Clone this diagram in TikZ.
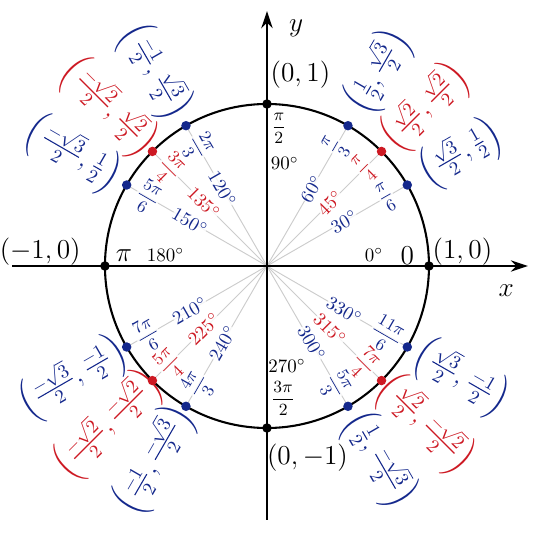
\documentclass[tikz,border=0pt]{standalone}
\usetikzlibrary{arrows.meta}
\usepackage{amsmath}
\begin{document}
\definecolor{cb}{RGB}{20,40,140}
\definecolor{cr}{RGB}{205,25,35}
\begin{tikzpicture}[
  ray/.style={gray!40,line width=0.5pt},
  dot/.style={circle,fill,inner sep=0pt,minimum size=5pt},
  coord/.style={font=\Large,inner sep=0pt},
  rad/.style={font=\small,inner sep=0pt},
  deg/.style={font=\normalsize,inner sep=0pt}]
\useasboundingbox (-4.944,-5.074) rectangle (5.056,4.926);
\coordinate (O) at (0,0);
\foreach \a/\c/\co/\r/\d in {
 30/cb/{\frac{\sqrt3}{2},\frac12}/{\dfrac{\pi}{6}}/30,
 45/cr/{\frac{\sqrt2}{2},\frac{\sqrt2}{2}}/{\dfrac{\pi}{4}}/45,
 60/cb/{\frac12,\frac{\sqrt3}{2}}/{\dfrac{\pi}{3}}/60,
 300/cb/{\frac12,\frac{-\sqrt3}{2}}/{\dfrac{5\pi}{3}}/300,
 315/cr/{\frac{\sqrt2}{2},\frac{-\sqrt2}{2}}/{\dfrac{7\pi}{4}}/315,
 330/cb/{\frac{\sqrt3}{2},\frac{-1}{2}}/{\dfrac{11\pi}{6}}/330}{
  \coordinate (p\a) at (\a:3);
  \draw[ray] (O) -- (p\a);
  \node[deg,text=\c,rotate=\a,fill=white,fill opacity=0.8,text opacity=1] (d\a) at (\a:1.65) {$\d^\circ$};
  \node[rad,text=\c,rotate=\a,fill=white,fill opacity=0.8,text opacity=1] (r\a) at (\a:2.55) {$\r$};
  \node[coord,text=\c,rotate=\a] (c\a) at (\a:4.15) {$\left(\co\right)$};
}
\foreach \a/\c/\co/\r/\d in {
 120/cb/{\frac{-1}{2},\frac{\sqrt3}{2}}/{\dfrac{2\pi}{3}}/120,
 135/cr/{\frac{-\sqrt2}{2},\frac{\sqrt2}{2}}/{\dfrac{3\pi}{4}}/135,
 150/cb/{\frac{-\sqrt3}{2},\frac12}/{\dfrac{5\pi}{6}}/150,
 210/cb/{\frac{-\sqrt3}{2},\frac{-1}{2}}/{\dfrac{7\pi}{6}}/210,
 225/cr/{\frac{-\sqrt2}{2},\frac{-\sqrt2}{2}}/{\dfrac{5\pi}{4}}/225,
 240/cb/{\frac{-1}{2},\frac{-\sqrt3}{2}}/{\dfrac{4\pi}{3}}/240}{
  \coordinate (p\a) at (\a:3);
  \draw[ray] (O) -- (p\a);
  \node[deg,text=\c,rotate=\a-180,fill=white,fill opacity=0.8,text opacity=1] (d\a) at (\a:1.65) {$\d^\circ$};
  \node[rad,text=\c,rotate=\a-180,fill=white,fill opacity=0.8,text opacity=1] (r\a) at (\a:2.55) {$\r$};
  \node[coord,text=\c,rotate=\a-180] (c\a) at (\a:4.15) {$\left(\co\right)$};
}
\coordinate (xl) at (-4.72,0); \coordinate (xr) at (4.83,0);
\coordinate (yb) at (0,-4.7); \coordinate (yt) at (0,4.72);
\draw[line width=0.7pt,-{Stealth[length=9pt,width=6pt]}] (xl) -- (xr);
\draw[line width=0.7pt,-{Stealth[length=9pt,width=6pt]}] (yb) -- (yt);
\draw[line width=1.1pt] (O) circle (3);
\foreach \a/\c in {30/cb,45/cr,60/cb,120/cb,135/cr,150/cb,210/cb,225/cr,240/cb,300/cb,315/cr,330/cb}
  \node[dot,fill=\c] (q\a) at (p\a) {};
\foreach \a in {0,90,180,270} \node[dot,fill=black] (q\a) at (\a:3) {};
\node[font=\Large] (xlab) at (4.43,-0.46) {$x$};
\node[font=\Large] (ylab) at (0.54,4.41) {$y$};
\node[coord] (c0) at (3.62,0.26) {$(1,0)$};
\node[coord] (c90) at (0.62,3.55) {$(0,1)$};
\node[coord] (c180) at (-4.2,0.26) {$(-1,0)$};
\node[coord] (c270) at (0.75,-3.55) {$(0,-1)$};
\node[font=\Large] (r0) at (2.6,0.2) {$0$};
\node[font=\Large] (r180) at (-2.65,0.2) {$\pi$};
\node[font=\small] (r90) at (0.22,2.55) {$\dfrac{\pi}{2}$};
\node[font=\small] (r270) at (0.3,-2.45) {$\dfrac{3\pi}{2}$};
\node[deg] (d0) at (1.98,0.2) {$0^\circ$};
\node[deg] (d180) at (-1.88,0.2) {$180^\circ$};
\node[deg] (d90) at (0.33,1.9) {$90^\circ$};
\node[deg] (d270) at (0.37,-1.85) {$270^\circ$};
\end{tikzpicture}
\end{document}
